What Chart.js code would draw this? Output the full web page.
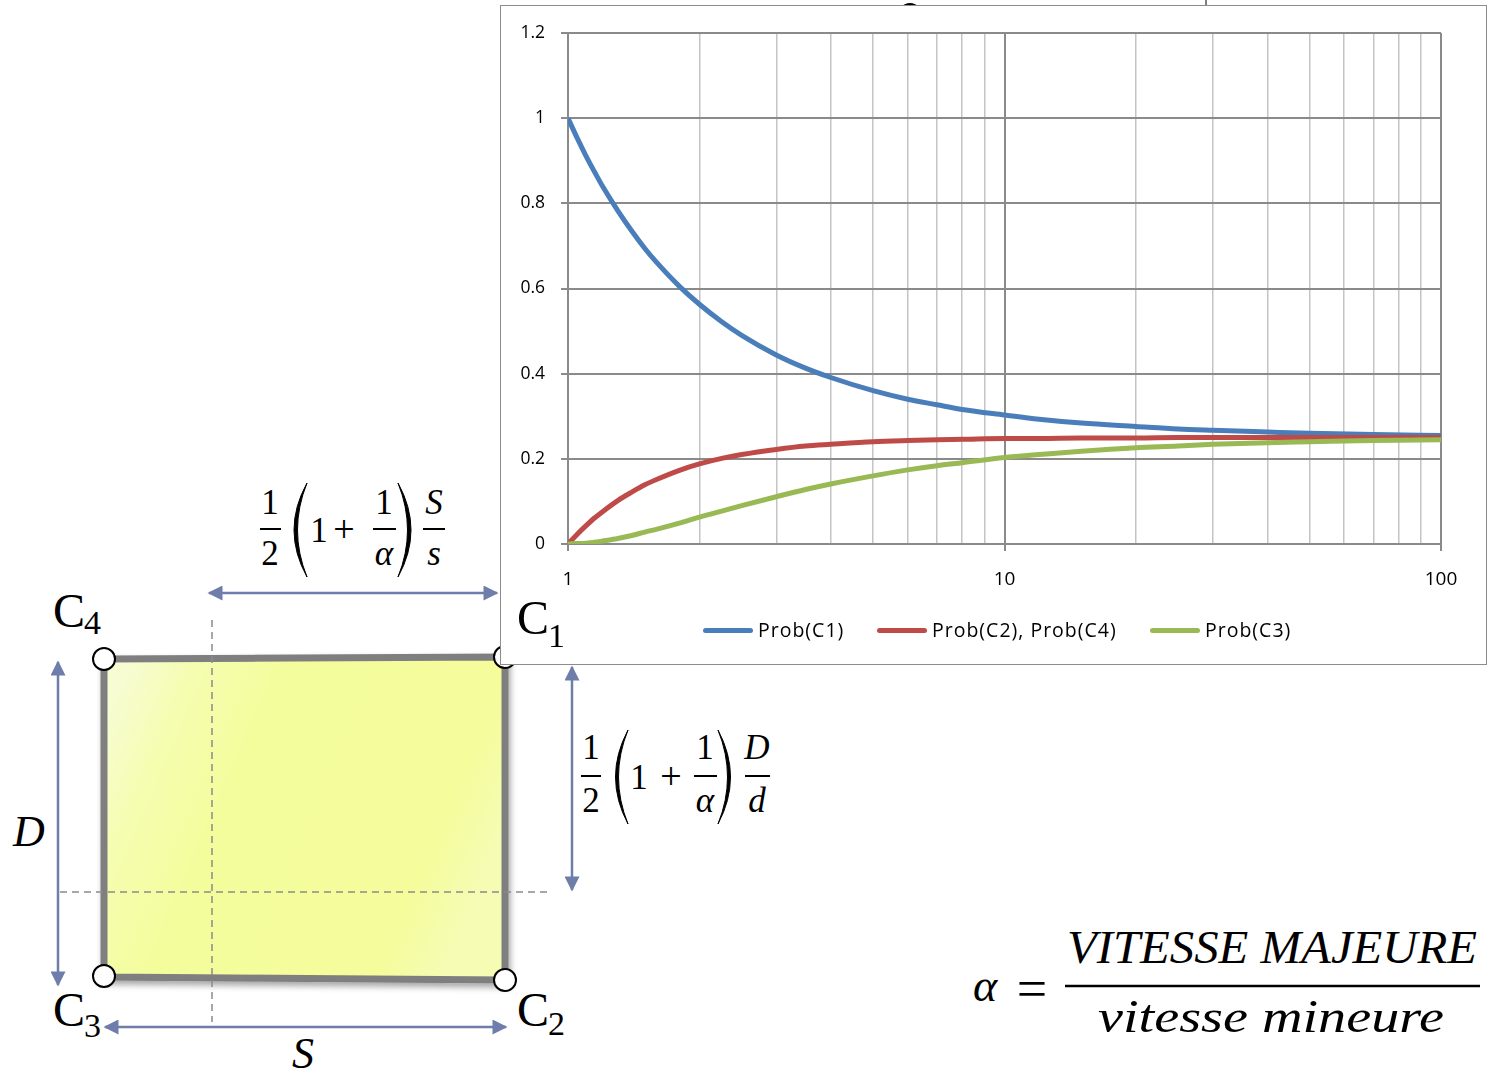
<!DOCTYPE html>
<html>
<head>
<meta charset="utf-8">
<title>Probabilites des coins</title>
<script src="https://cdn.jsdelivr.net/npm/chart.js@4.4.0/dist/chart.umd.min.js"></script>
<style>
body { margin:0; background:#fff; }
#page { position:relative; width:1488px; height:1072px; overflow:hidden; background:#fff; }
#schema, #dessus { position:absolute; left:0; top:0; }
#dessus { pointer-events:none; }
#box { position:absolute; left:500px; top:5px; width:987px; height:660px; border:1px solid #8c8c8c; box-sizing:border-box; background:#fff; }
#graph { position:absolute; left:0; top:0; }
.leg { position:absolute; top:618px; font-family:"Open Sans", Lato, sans-serif; font-size:19.5px; letter-spacing:1px; color:#000; line-height:24px; white-space:nowrap; }
.leg span { position:absolute; top:10px; width:50px; height:5px; border-radius:3px; }
.math { font-family:"Liberation Serif", "DejaVu Serif", serif; fill:#000; }
.it { font-style:italic; }
</style>
</head>
<body>
<div id="page">

<svg id="schema" width="1488" height="1072">
  <defs>
    <linearGradient id="fond" x1="0" y1="0.2" x2="1" y2="0.55">
      <stop offset="0" stop-color="#f7fcd2"/>
      <stop offset="0.15" stop-color="#f5fdb0"/>
      <stop offset="0.35" stop-color="#f4fd9c"/>
      <stop offset="0.85" stop-color="#f4fc9c"/>
      <stop offset="1" stop-color="#f6fcb4"/>
    </linearGradient>
    <filter id="ombre" x="-10%" y="-10%" width="130%" height="130%">
      <feDropShadow dx="2" dy="4" stdDeviation="3" flood-color="#000" flood-opacity="0.35"/>
    </filter>
    <marker id="pointe" viewBox="0 0 10 10" refX="9" refY="5" markerWidth="6.5" markerHeight="6" orient="auto-start-reverse">
      <path d="M0,0 L10,5 L0,10 z" fill="#6f7dab"/>
    </marker>
  </defs>

  <!-- rectangle -->
  <path d="M104,659 L505,657 L505,980 L104,977 Z" fill="url(#fond)" stroke="#7f7f7f" stroke-width="7" filter="url(#ombre)"/>

  <!-- axes en pointilles -->
  <g stroke="#8a8a8a" stroke-width="1.5" stroke-dasharray="7 5" fill="none">
    <line x1="212" y1="620" x2="212" y2="1022"/>
    <line x1="60" y1="892" x2="548" y2="892"/>
  </g>

  <!-- cotes -->
  <g stroke="#6f7dab" stroke-width="2.5" marker-start="url(#pointe)" marker-end="url(#pointe)">
    <line x1="209" y1="593" x2="497" y2="593"/>
    <line x1="58" y1="662" x2="58" y2="985"/>
    <line x1="572" y1="667" x2="572" y2="890"/>
    <line x1="105" y1="1027" x2="506" y2="1027"/>
  </g>

  <!-- coins -->
  <g fill="#fff" stroke="#000" stroke-width="2">
    <circle cx="104" cy="659" r="11"/>
    <circle cx="505" cy="657" r="11"/>
    <circle cx="104" cy="976" r="11"/>
    <circle cx="505" cy="980" r="11"/>
    <circle cx="910" cy="15" r="11"/>
  </g>
  <line x1="1206" y1="0" x2="1206" y2="6" stroke="#555" stroke-width="1.5"/>

  <!-- etiquettes des coins -->
  <g class="math">
    <text x="53" y="627" font-size="48">C</text><text x="84" y="634" font-size="34">4</text>
    <text x="53" y="1026" font-size="48">C</text><text x="84" y="1037" font-size="34">3</text>
    <text x="517" y="1026" font-size="48">C</text><text x="548" y="1035" font-size="34">2</text>
    <text x="13" y="846" font-size="44" class="it">D</text>
    <text x="292" y="1068" font-size="44" class="it">S</text>
  </g>

  <!-- 1/2 (1 + 1/alpha) S/s -->
  <g class="math" font-size="35" text-anchor="middle">
    <text x="270" y="514">1</text>
    <text x="270" y="565">2</text>
    <text x="319" y="542">1</text>
    <text x="344" y="542" font-size="38">+</text>
    <text x="384" y="514">1</text>
    <text x="384" y="565" class="it">α</text>
    <text x="434" y="514" class="it">S</text>
    <text x="434" y="565" class="it">s</text>
  </g>
  <g stroke="#000" stroke-width="2">
    <line x1="260" y1="529" x2="281" y2="529"/>
    <line x1="373" y1="529" x2="396" y2="529"/>
    <line x1="423" y1="529" x2="445" y2="529"/>
  </g>
  <path d="M307,483 Q281,530 307,577 Q288,530 307,483 Z" fill="#000" stroke="#000" stroke-width="1"/>
  <path d="M398,483 Q424,530 398,577 Q417,530 398,483 Z" fill="#000" stroke="#000" stroke-width="1"/>

  <!-- 1/2 (1 + 1/alpha) D/d -->
  <g class="math" font-size="35" text-anchor="middle">
    <text x="591" y="759">1</text>
    <text x="591" y="812">2</text>
    <text x="639" y="789">1</text>
    <text x="671" y="789" font-size="38">+</text>
    <text x="705" y="759">1</text>
    <text x="705" y="812" class="it">α</text>
    <text x="757" y="759" class="it">D</text>
    <text x="757" y="812" class="it">d</text>
  </g>
  <g stroke="#000" stroke-width="2">
    <line x1="581" y1="776" x2="601" y2="776"/>
    <line x1="694" y1="776" x2="717" y2="776"/>
    <line x1="745" y1="776" x2="770" y2="776"/>
  </g>
  <path d="M628,730 Q603,777 628,824 Q609,777 628,730 Z" fill="#000" stroke="#000" stroke-width="1"/>
  <path d="M718,730 Q743,777 718,824 Q737,777 718,730 Z" fill="#000" stroke="#000" stroke-width="1"/>

  <!-- definition de alpha -->
  <g class="math it" font-size="46">
    <text x="985" y="1001" text-anchor="middle">α</text>
    <text x="1067" y="963" textLength="410" lengthAdjust="spacingAndGlyphs">VITESSE MAJEURE</text>
    <text x="1098" y="1032" textLength="346" lengthAdjust="spacingAndGlyphs">vitesse mineure</text>
  </g>
  <text x="1032" y="1007" class="math" font-size="54" text-anchor="middle">=</text>
  <line x1="1065" y1="986" x2="1480" y2="986" stroke="#000" stroke-width="2.5"/>
</svg>

<div id="box">
  <canvas id="graph" width="985" height="658"></canvas>
</div>
<div id="legende"></div>

<svg id="dessus" width="1488" height="1072">
  <g class="math">
    <text x="517" y="634" font-size="48">C</text><text x="548" y="647" font-size="34">1</text>
  </g>
</svg>

</div>
<script>
// rapport des vitesses (axe log) et probabilites lues pour chaque coin
var alpha    = [1, 1.05, 1.1, 1.15, 1.2, 1.3, 1.4, 1.5, 1.6, 1.8, 2, 2.25, 2.5, 3, 3.5, 4, 5, 6, 7, 8, 10, 12, 15, 20, 25, 30, 40, 50, 70, 100];
var probC1   = [1.000, 0.953, 0.911, 0.874, 0.840, 0.783, 0.735, 0.694, 0.660, 0.605, 0.563, 0.522, 0.490, 0.444, 0.413, 0.391, 0.360, 0.340, 0.327, 0.316, 0.303, 0.293, 0.284, 0.276, 0.270, 0.267, 0.263, 0.260, 0.257, 0.255];
var probC2C4 = [0.000, 0.023, 0.043, 0.061, 0.076, 0.102, 0.122, 0.139, 0.152, 0.173, 0.188, 0.201, 0.210, 0.222, 0.230, 0.234, 0.240, 0.243, 0.245, 0.246, 0.248, 0.248, 0.249, 0.249, 0.250, 0.250, 0.250, 0.250, 0.250, 0.250];
var probC3   = [0.000, 0.001, 0.002, 0.004, 0.007, 0.013, 0.020, 0.028, 0.035, 0.049, 0.063, 0.077, 0.090, 0.111, 0.128, 0.141, 0.160, 0.174, 0.184, 0.191, 0.203, 0.210, 0.218, 0.226, 0.230, 0.234, 0.238, 0.240, 0.243, 0.245];

var noms     = ["Prob(C1)", "Prob(C2), Prob(C4)", "Prob(C3)"];
var couleurs = ["#4a7ebb", "#be4b48", "#98b954"];
var xLabels  = [1, 10, 100];
var yMax = 1.2, yStep = 0.2;

// lignes de grille verticales : 1..9 par decade
var xGrid = [];
for (var d = 1; d < 100; d *= 10) {
  for (var k = 1; k < 10; k++) xGrid.push(k * d);
}
xGrid.push(100);

function decade(v) {
  return xLabels.indexOf(v) >= 0;
}

var series = [probC1, probC2C4, probC3];
var datasets = series.map(function (vals, i) {
  return {
    label: noms[i],
    data: alpha.map(function (a, j) { return { x: a, y: vals[j] }; }),
    borderColor: couleurs[i],
    borderWidth: 5,
    pointRadius: 0,
    fill: false,
    cubicInterpolationMode: 'monotone',
    order: series.length - i
  };
});

var ctx = document.getElementById('graph').getContext('2d');
var chart = new Chart(ctx, {
  type: 'line',
  data: { datasets: datasets },
  options: {
    responsive: false,
    animation: false,
    devicePixelRatio: 1,
    layout: { padding: { left: 0, right: 45, top: 27, bottom: 0 } },
    plugins: { legend: { display: false }, tooltip: { enabled: false } },
    scales: {
      x: {
        type: 'logarithmic',
        min: 1, max: 100,
        afterBuildTicks: function (s) {
          s.ticks = xGrid.map(function (v) { return { value: v, major: decade(v) }; });
        },
        afterFit: function (s) { s.height = 120; },
        ticks: {
          autoSkip: false, maxRotation: 0, padding: 17, color: '#000',
          font: { family: 'Open Sans', size: 19 },
          callback: function (v) { return decade(v) ? String(v) : ''; }
        },
        grid: {
          color: function (c) { return decade(c.tick.value) ? '#8a8a8a' : '#c4c4c4'; },
          lineWidth: function (c) { return decade(c.tick.value) ? 2 : 1.5; },
          tickColor: function (c) { return decade(c.tick.value) ? '#8a8a8a' : 'rgba(0,0,0,0)'; },
          tickLength: 7
        },
        border: { color: '#8a8a8a', width: 2 }
      },
      y: {
        min: 0, max: yMax,
        afterFit: function (s) { s.width = 67; },
        ticks: {
          stepSize: yStep, padding: 16, color: '#000',
          font: { family: 'Open Sans', size: 17.5 },
          callback: function (v) { return String(Number(v.toFixed(1))); }
        },
        grid: { color: '#8a8a8a', lineWidth: 2, tickLength: 7, tickColor: '#8a8a8a' },
        border: { color: '#8a8a8a', width: 2 }
      }
    }
  }
});

// legende sous le graphique
var legX = [703, 877, 1150];
var leg = document.getElementById('legende');
noms.forEach(function (n, i) {
  var el = document.createElement('div');
  el.className = 'leg';
  el.style.left = legX[i] + 'px';
  el.style.paddingLeft = '55px';
  el.innerHTML = '<span style="left:0;background:' + couleurs[i] + '"></span>' + n;
  leg.appendChild(el);
});
</script>
</body>
</html>
